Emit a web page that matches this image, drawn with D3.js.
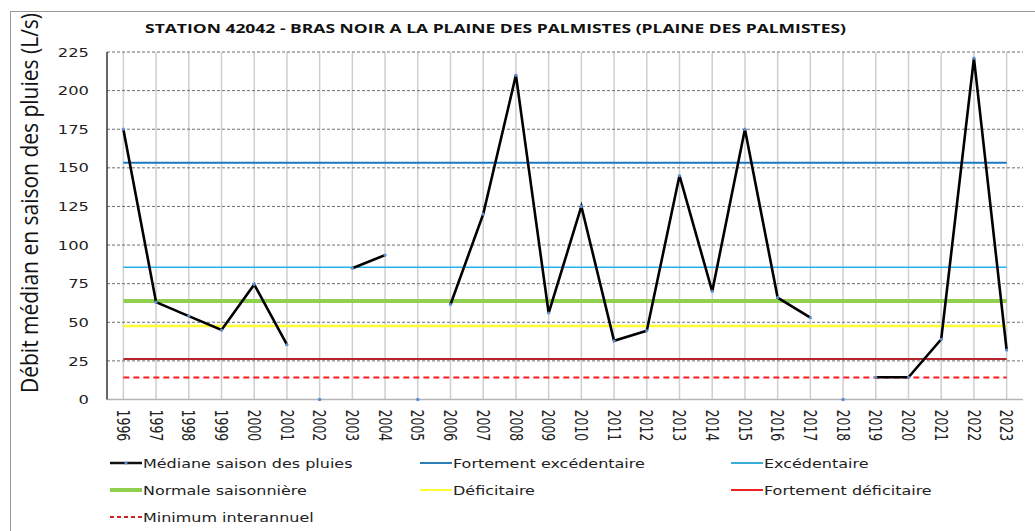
<!DOCTYPE html>
<html>
<head>
<meta charset="utf-8">
<script src="https://cdn.jsdelivr.net/npm/d3@7"></script>
<style>
  body { margin: 0; background: #fff; }
  svg { display: block; }
</style>
</head>
<body>
<svg id="chart" width="1035" height="531"></svg>
<script>
// --- data ---
var years = ["1996", "1997", "1998", "1999", "2000", "2001", "2002", "2003", "2004", "2005",
    "2006", "2007", "2008", "2009", "2010", "2011", "2012", "2013", "2014", "2015",
    "2016", "2017", "2018", "2019", "2020", "2021", "2022", "2023"];
// null = no line (gap)
var mediane = [175, 63, 54, 45, 74.5, 35.5, null, 85, 93.5, null,
    61.5, 120, 210, 56, 125, 38, 44.5, 145, 70, 175,
    66, 53, null, 14.4, 14.4, 39, 221, 32];
// years where only a marker is shown at 0
var zeroMarkerYears = ["2002", "2005", "2018"];

var fortementExcedentaire = 153.3;
var excedentaire = 85.7;
var normaleSaisonniere = 63.7;
var deficitaire = 47.6;
var fortementDeficitaire = 26.3;
var minimumInterannuel = 14.3;

var yTicks = [0, 25, 50, 75, 100, 125, 150, 175, 200, 225];

var titleText = "STATION 42042 - BRAS NOIR A LA PLAINE DES PALMISTES (PLAINE DES PALMISTES)";
var yTitle = "Débit médian en saison des pluies (L/s)";

var legendLabels = [
    "Médiane saison des pluies", "Fortement excédentaire", "Excédentaire",
    "Normale saisonnière", "Déficitaire", "Fortement déficitaire",
    "Minimum interannuel"];

// --- styles ---
var refLines = [
    {value: fortementExcedentaire, color: "#1a78c2", width: 2, dash: null},
    {value: excedentaire, color: "#22b2ec", width: 1.5, dash: null},
    {value: normaleSaisonniere, color: "#8fd14f", width: 4, dash: null},
    {value: deficitaire, color: "#ffff33", width: 2.5, dash: null},
    {value: fortementDeficitaire, color: "#b3262a", width: 2, dash: null},
    {value: minimumInterannuel, color: "#ff1a1a", width: 2, dash: "6,4"}
];
var legendStyles = [
    {color: "#111", width: 2.5, dash: null, dot: true},
    {color: "#2f7db8", width: 2, dash: null},
    {color: "#3aaed8", width: 2, dash: null},
    {color: "#8fd14f", width: 4, dash: null},
    {color: "#ffff33", width: 2, dash: null},
    {color: "#ee2222", width: 2, dash: null},
    {color: "#cc2222", width: 2, dash: "4,3"}
];

var margin = {top: 52, left: 107, right: 12, bottom: 132};
var W = 1035, H = 531;
var plotW = 1023 - margin.left;
var plotH = 399.5 - margin.top;
var SX = 1.42; // the picture's text is stretched horizontally

var svg = d3.select("#chart");

svg.append("rect")
    .attr("x", 10.5).attr("y", 11.5)
    .attr("width", 1100).attr("height", 600)
    .attr("fill", "none").attr("stroke", "#9a9a9a").attr("stroke-width", 1);

var x = d3.scaleBand().domain(years).range([0, plotW]);
var y = d3.scaleLinear().domain([0, 225]).range([plotH, 0]);
var cx = function (d) { return x(d) + x.bandwidth() / 2; };

var g = svg.append("g")
    .attr("transform", "translate(" + margin.left + "," + margin.top + ")");

// vertical grid at each year
g.append("g").selectAll("line")
    .data(years).enter().append("line")
    .attr("x1", cx).attr("x2", cx)
    .attr("y1", 0).attr("y2", plotH)
    .attr("stroke", "#cfcfcf").attr("stroke-width", 1.5);

// horizontal dashed grid
g.append("g").selectAll("line")
    .data(yTicks.filter(function (d) { return d > 0; })).enter().append("line")
    .attr("x1", 0).attr("x2", plotW)
    .attr("y1", function (d) { return y(d); })
    .attr("y2", function (d) { return y(d); })
    .attr("stroke", "#6f6f6f").attr("stroke-width", 1)
    .attr("stroke-dasharray", "3,2");

// axes
var yAxis = g.append("g").call(d3.axisLeft(y).tickValues(yTicks).tickSize(0).tickPadding(0));
yAxis.select(".domain").remove();
yAxis.selectAll("text")
    .attr("x", -18 / SX)
    .attr("dy", "0.36em")
    .attr("transform", "scale(" + SX + ",1)")
    .attr("font-family", "DejaVu Sans")
    .attr("font-size", "11.5px")
    .attr("fill", "#222");

var xAxis = g.append("g")
    .attr("transform", "translate(0," + plotH + ")")
    .call(d3.axisBottom(x).tickSize(0));
xAxis.select(".domain").remove();
xAxis.selectAll("text")
    .attr("y", 0).attr("x", 10)
    .attr("dy", "0.36em")
    .attr("text-anchor", "start")
    .attr("transform", "scale(" + SX + ",1) rotate(90)")
    .attr("font-family", "DejaVu Sans")
    .attr("font-size", "12.5px")
    .attr("fill", "#222");

g.append("line")
    .attr("x1", 0).attr("x2", plotW).attr("y1", plotH).attr("y2", plotH)
    .attr("stroke", "#b5b5b5").attr("stroke-width", 1.5);
g.append("line")
    .attr("x1", 0).attr("x2", 0).attr("y1", 0).attr("y2", plotH)
    .attr("stroke", "#333").attr("stroke-width", 1.5);

// reference lines from first year to last year
g.append("g").selectAll("line")
    .data(refLines).enter().append("line")
    .attr("x1", cx(years[0]))
    .attr("x2", cx(years[years.length - 1]))
    .attr("y1", function (d) { return y(d.value); })
    .attr("y2", function (d) { return y(d.value); })
    .attr("stroke", function (d) { return d.color; })
    .attr("stroke-width", function (d) { return d.width; })
    .attr("stroke-dasharray", function (d) { return d.dash; });

// median line
var pts = years.map(function (yr, i) { return {year: yr, v: mediane[i]}; });
var line = d3.line()
    .defined(function (d) { return d.v !== null; })
    .x(function (d) { return cx(d.year); })
    .y(function (d) { return y(d.v); });

g.append("path")
    .datum(pts)
    .attr("d", line)
    .attr("fill", "none")
    .attr("stroke", "#000")
    .attr("stroke-width", 2.6)
    .attr("stroke-linejoin", "miter");

g.append("g").selectAll("circle")
    .data(pts.filter(function (d) { return d.v !== null; })).enter().append("circle")
    .attr("cx", function (d) { return cx(d.year); })
    .attr("cy", function (d) { return y(d.v); })
    .attr("r", 1.6)
    .attr("fill", "#5b8fd0");

g.append("g").selectAll("circle")
    .data(zeroMarkerYears).enter().append("circle")
    .attr("cx", cx)
    .attr("cy", y(0))
    .attr("r", 1.8)
    .attr("fill", "#5b8fd0");

// title
svg.append("text")
    .attr("x", 495.5).attr("y", 33.3)
    .attr("text-anchor", "middle")
    .attr("font-family", "Open Sans")
    .attr("font-weight", "bold")
    .attr("font-size", "12px")
    .attr("textLength", 701)
    .attr("lengthAdjust", "spacingAndGlyphs")
    .attr("fill", "#111")
    .text(titleText);

// y axis title
svg.append("text")
    .attr("transform", "translate(38,203) scale(" + SX + ",1) rotate(-90)")
    .attr("text-anchor", "middle")
    .attr("font-family", "Open Sans")
    .attr("font-size", "17px")
    .attr("textLength", 380)
    .attr("lengthAdjust", "spacingAndGlyphs")
    .attr("fill", "#111")
    .text(yTitle);

// legend
var legCols = [110, 420, 731];
var legRows = [463, 490, 517];
var legSX = 1.3;
var legend = svg.append("g")
    .selectAll("g")
    .data(legendLabels).enter().append("g")
    .attr("transform", function (d, i) {
        return "translate(" + legCols[i % 3] + "," + legRows[Math.floor(i / 3)] + ")";
    });

legend.append("line")
    .attr("x1", 0).attr("x2", 32).attr("y1", 0).attr("y2", 0)
    .attr("stroke", function (d, i) { return legendStyles[i].color; })
    .attr("stroke-width", function (d, i) { return legendStyles[i].width; })
    .attr("stroke-dasharray", function (d, i) { return legendStyles[i].dash; });

legend.filter(function (d, i) { return legendStyles[i].dot; })
    .append("circle")
    .attr("cx", 16).attr("cy", 0).attr("r", 1.6)
    .attr("fill", "#5b8fd0");

legend.append("text")
    .attr("transform", "translate(33,4.5) scale(" + legSX + ",1)")
    .attr("font-family", "DejaVu Sans")
    .attr("font-size", "12.3px")
    .attr("fill", "#222")
    .text(function (d) { return d; });
</script>
</body>
</html>
